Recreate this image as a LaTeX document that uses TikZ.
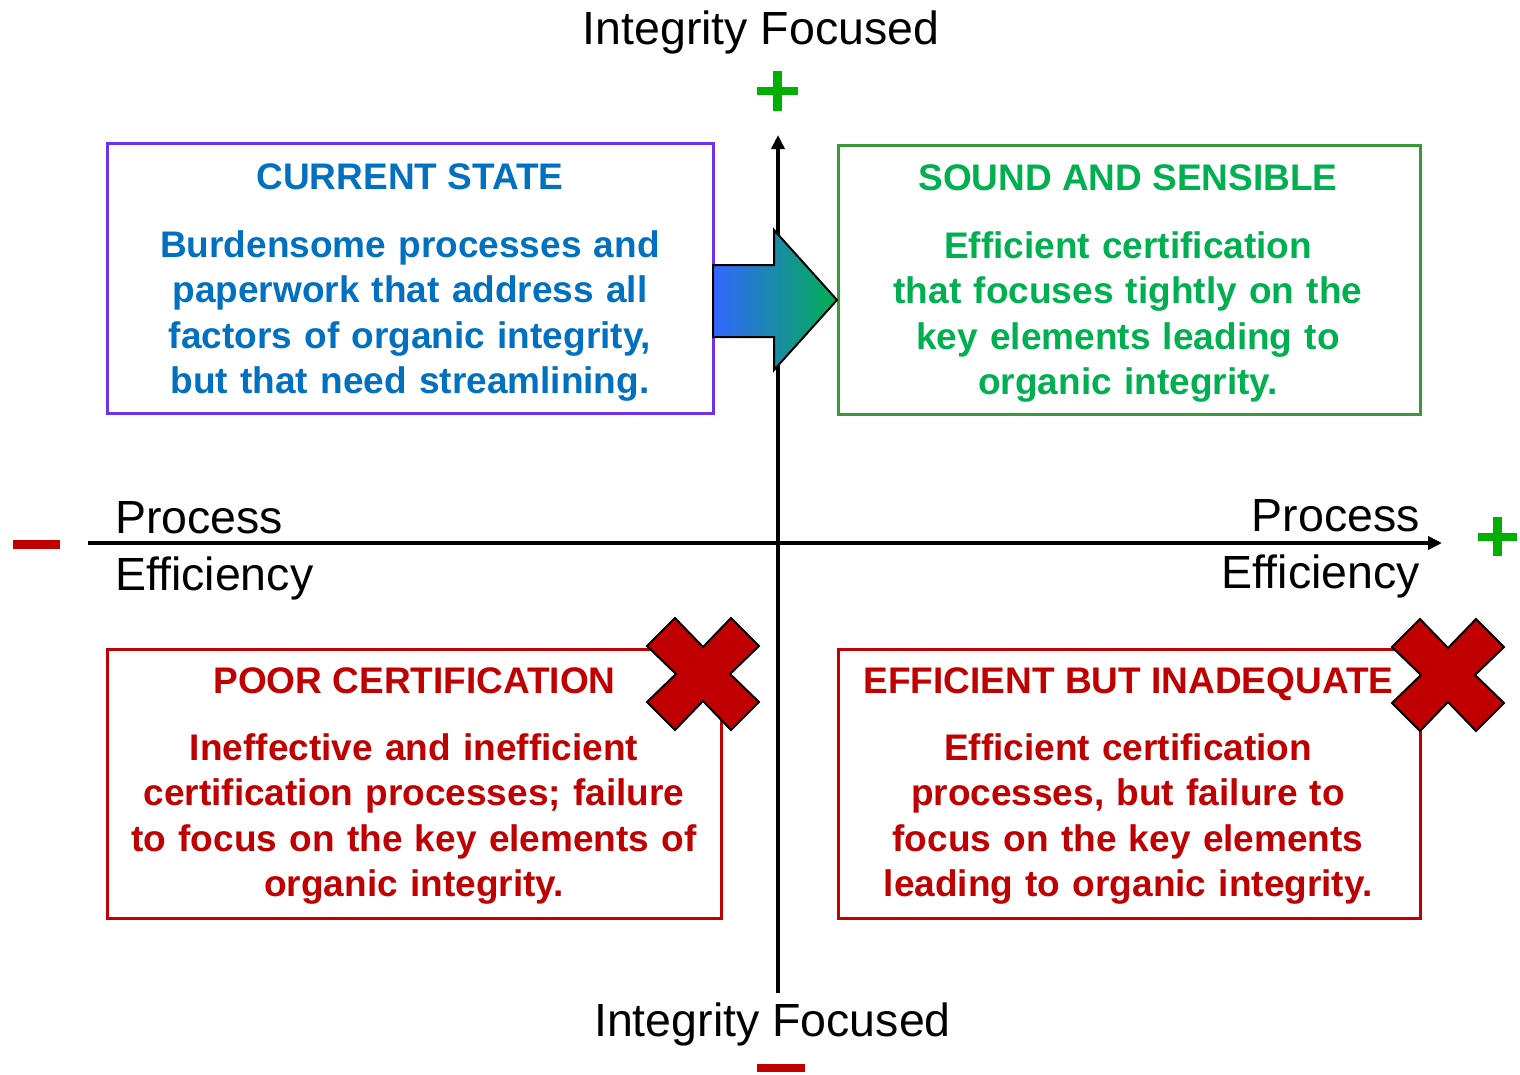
\documentclass[tikz,border=0pt]{standalone}
\usepackage{fontspec}
\setmainfont{Liberation Sans}
\usetikzlibrary{arrows.meta}
\definecolor{cblue}{HTML}{0070C0}
\definecolor{cgreen}{HTML}{00B050}
\definecolor{cred}{HTML}{C00000}
\definecolor{cpurple}{HTML}{7030F0}
\definecolor{gborder}{HTML}{3A9A3A}
\definecolor{signgreen}{HTML}{00B000}
\definecolor{arrowblue}{HTML}{3366FF}
\begin{document}
\begin{tikzpicture}[x=1pt,y=-1pt,
  box/.style={draw, line width=3pt, inner sep=0pt},
  boxtitle/.style={font=\fontsize{37}{45.5}\selectfont\bfseries, anchor=base, inner sep=0pt},
  boxbody/.style={font=\fontsize{37}{45.5}\selectfont\bfseries, anchor=base, inner sep=0pt, text width=#1, align=center},
  axislabel/.style={font=\fontsize{46.5}{50}\selectfont, inner sep=0pt},
  axis/.style={line width=3.5pt, -{Triangle[length=14pt,width=13pt]}},
  sign/.style={line width=8.5pt},
  cross/.style={fill=cred, draw=black, line width=2pt, line join=miter}
]
\useasboundingbox (0,0) rectangle (1520,1074);

% axes
\coordinate (vb) at (778,993);
\coordinate (vt) at (778,135);
\draw[axis] (vb) -- (vt);
\coordinate (hl) at (88,543);
\coordinate (hr) at (1442,543);
\draw[axis] (hl) -- (hr);

% boxes
\node[box, draw=cpurple, minimum width=606pt, minimum height=270pt] (cs) at (410,278) {};
\node[box, draw=gborder, minimum width=582pt, minimum height=269pt] (ss) at (1129,279.5) {};
\node[box, draw=cred, minimum width=614pt, minimum height=269pt] (pc) at (414,783.5) {};
\node[box, draw=cred, minimum width=582pt, minimum height=269pt] (ei) at (1129,783.5) {};

% box texts
\node[boxtitle, text=cblue] (cst) at (410,189) {CURRENT STATE};
\node[boxbody=580pt, text=cblue] (csb) at (410,257) {Burdensome processes and\\paperwork that address all\\factors of organic integrity,\\but that need streamlining.};

\node[boxtitle, text=cgreen] (sst) at (1128,190) {SOUND AND SENSIBLE};
\node[boxbody=560pt, text=cgreen] (ssb) at (1128,258) {Efficient certification\\that focuses tightly on the\\key elements leading to\\organic integrity.};

\node[boxtitle, text=cred] (pct) at (414.5,693) {POOR CERTIFICATION};
\node[boxbody=600pt, text=cred] (pcb) at (414,760) {Ineffective and inefficient\\certification processes; failure\\to focus on the key elements of\\organic integrity.};

\node[boxtitle, text=cred] (eit) at (1128.5,693) {EFFICIENT BUT INADEQUATE};
\node[boxbody=560pt, text=cred] (eib) at (1128,760) {Efficient certification\\processes, but failure to\\focus on the key elements\\leading to organic integrity.};

% big gradient arrow
\path[draw=black, line width=2pt, line join=miter, left color=arrowblue, right color=cgreen]
  (713,265) -- (774,265) -- (774,230) -- (837,300) -- (774,370) -- (774,337) -- (713,337) -- cycle;

% crosses
\begin{scope}[shift={(703,674)}]
\draw[cross] (0,-27) -- (28,-56) -- (56,-28) -- (27,0) -- (56,28) -- (28,56) -- (0,27) -- (-28,56) -- (-56,28) -- (-27,0) -- (-56,-28) -- (-28,-56) -- cycle;
\end{scope}
\begin{scope}[shift={(1448,675)}]
\draw[cross] (0,-27) -- (28,-56) -- (56,-28) -- (27,0) -- (56,28) -- (28,56) -- (0,27) -- (-28,56) -- (-56,28) -- (-27,0) -- (-56,-28) -- (-28,-56) -- cycle;
\end{scope}

% axis labels
\node[axislabel, anchor=base] (itop) at (761,44) {Integrity Focused};
\node[axislabel, anchor=base] (ibot) at (772.5,1036) {Integrity Focused};
\node[axislabel, anchor=base west] (lp) at (115,533) {Process};
\node[axislabel, anchor=base west] (le) at (115,590) {Efficiency};
\node[axislabel, anchor=base east] (rp) at (1420,531) {Process};
\node[axislabel, anchor=base east] (re) at (1420,588) {Efficiency};

% signs
\draw[sign, signgreen] (757,91) -- (798,91) (777.5,71) -- (777.5,111);
\draw[sign, signgreen] (1478,537) -- (1517,537) (1497.5,517) -- (1497.5,556);
\draw[line width=9pt, cred] (13,544.5) -- (60,544.5);
\draw[line width=8pt, cred] (757,1068) -- (805,1068);
\end{tikzpicture}
\end{document}
